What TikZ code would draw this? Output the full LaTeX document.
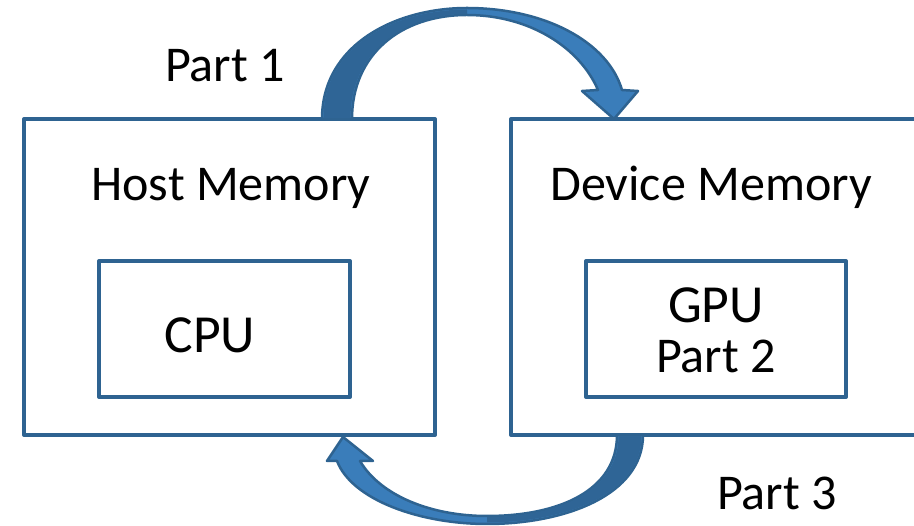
\documentclass[tikz,border=0pt]{standalone}
\usepackage{fontspec}
\setmainfont{Carlito}
\definecolor{boxblue}{RGB}{46,99,145}
\definecolor{arrowlight}{RGB}{58,125,186}
\definecolor{arrowdark}{RGB}{47,101,150}

\begin{document}
\begin{tikzpicture}[x=0.02cm,y=-0.02cm,line join=round,
    mem/.style={draw=boxblue,line width=0.08cm,minimum width=8.22cm,minimum height=6.32cm,inner sep=0pt},
    unit/.style={draw=boxblue,line width=0.08cm,minimum height=2.72cm,inner sep=0pt},
    lbl/.style={anchor=base,inner sep=0pt,font=\fontsize{28.5}{34}\selectfont},
    biglbl/.style={lbl,font=\fontsize{30.5}{36}\selectfont},
    blockarrow/.style={fill=arrowlight,draw=boxblue,line width=0.05cm}]
        \useasboundingbox (0,0) rectangle (914,526);
        \node[mem] (host) at (229.5,277) {};%host side
        \node[mem] (dev) at (716.5,277) {};%device side
        \node[unit,minimum width=5.02cm] (cpu) at (224.5,329) {};
        \node[unit,minimum width=5.2cm] (gpu) at (716,329) {};
        \node[lbl] (hostlbl) at (231,201) {Host Memory};
        \node[lbl] (devlbl) at (711,201) {Device Memory};
        \node[biglbl] (cpulbl) at (210,353) {CPU};
        \node[biglbl] (gpulbl) at (716,323) {GPU};
        \node[lbl] (part2) at (716,373) {Part 2};
        \node[lbl] (part1) at (225,82) {Part 1};
        \node[lbl] (part3) at (777,510) {Part 3};
        % copy to the device, over the top
        \draw[blockarrow] (322,119) .. controls (322,45) and (395,8) .. (467,8)
            .. controls (545,8) and (608,42) .. (622,90)
            -- (638,91) -- (614,119) -- (582,91) -- (598,90)
            .. controls (580,48) and (530,15) .. (467,15)
            .. controls (400,15) and (352,55) .. (352,119) -- cycle;
        \fill[arrowdark] (323.5,118) .. controls (323.5,46) and (395,9.5) .. (467,9.5)
            -- (467,14) .. controls (400,14) and (350.5,55) .. (350.5,118) -- cycle;
        % copy back to the host, underneath
        \draw[blockarrow] (643,435) .. controls (643,495) and (565,524) .. (487,524)
            .. controls (420,524) and (352,500) .. (337,461)
            -- (327,461) -- (343,437) -- (373,461) -- (360,461)
            .. controls (380,495) and (430,516) .. (487,516)
            .. controls (560,516) and (617,490) .. (617,435) -- cycle;
        \fill[arrowdark] (641.5,436) .. controls (641.5,494) and (565,522.5) .. (487,522.5)
            -- (487,517) .. controls (560,517) and (618.5,490) .. (618.5,436) -- cycle;
\end{tikzpicture}
\end{document}
